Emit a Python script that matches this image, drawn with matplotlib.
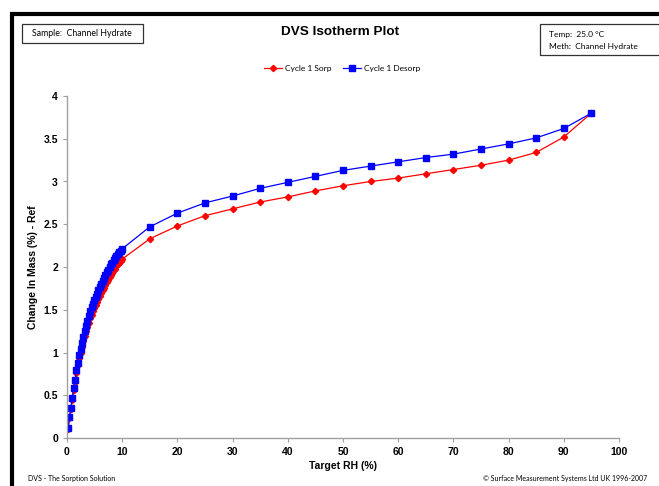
import matplotlib.pyplot as plt
from matplotlib.patches import Rectangle
from matplotlib.ticker import FuncFormatter

# Cycle 1 sorption (target RH %, change in mass %)
sorp_rh = [0.2, 0.45, 0.7, 0.95, 1.2, 1.45, 1.7, 1.95, 2.2, 2.45, 2.7, 2.95,
           3.2, 3.45, 3.7, 3.95, 4.2, 4.45, 4.7, 4.95, 5.2, 5.45, 5.7, 5.95,
           6.2, 6.45, 6.7, 6.95, 7.2, 7.45, 7.7, 7.95, 8.2, 8.45, 8.7, 8.95,
           9.2, 9.45, 9.7, 9.95,
           15, 20, 25, 30, 35, 40, 45, 50, 55, 60, 65, 70, 75, 80, 85, 90, 95]
sorp_mass = [0.11, 0.23, 0.34, 0.45, 0.56, 0.66, 0.76, 0.85, 0.93, 1.00, 1.07, 1.13,
             1.19, 1.25, 1.30, 1.35, 1.40, 1.44, 1.48, 1.52, 1.56, 1.59, 1.63, 1.66,
             1.70, 1.73, 1.76, 1.79, 1.82, 1.85, 1.88, 1.91, 1.93, 1.96, 1.98, 2.01,
             2.03, 2.05, 2.07, 2.09,
             2.33, 2.48, 2.60, 2.68, 2.76, 2.82, 2.89, 2.95, 3.00, 3.04, 3.09, 3.14,
             3.19, 3.25, 3.34, 3.52, 3.80]

# Cycle 1 desorption
desorp_rh = [0.2, 0.45, 0.7, 0.95, 1.2, 1.45, 1.7, 1.95, 2.2, 2.45, 2.7, 2.95,
             3.2, 3.45, 3.7, 3.95, 4.2, 4.45, 4.7, 4.95, 5.2, 5.45, 5.7, 5.95,
             6.2, 6.45, 6.7, 6.95, 7.2, 7.45, 7.7, 7.95, 8.2, 8.45, 8.7, 8.95,
             9.2, 9.45, 9.7, 9.95,
             15, 20, 25, 30, 35, 40, 45, 50, 55, 60, 65, 70, 75, 80, 85, 90, 95]
desorp_mass = [0.12, 0.24, 0.35, 0.47, 0.58, 0.68, 0.79, 0.88, 0.97, 1.04, 1.11, 1.18,
               1.25, 1.31, 1.37, 1.43, 1.48, 1.53, 1.57, 1.61, 1.65, 1.69, 1.73, 1.77,
               1.80, 1.84, 1.87, 1.91, 1.94, 1.97, 2.00, 2.03, 2.05, 2.08, 2.10, 2.13,
               2.15, 2.17, 2.19, 2.21,
               2.47, 2.63, 2.75, 2.83, 2.92, 2.99, 3.06, 3.13, 3.18, 3.23, 3.28, 3.32,
               3.38, 3.44, 3.51, 3.62, 3.80]

W, H = 659, 486
fig = plt.figure(figsize=(W / 100, H / 100), dpi=100)
small = "Lato"
bold = "Liberation Sans"

def px(x, y):
    return x / W, 1 - y / H

# black outer frame (cut off on the right and bottom)
fig.patches.append(Rectangle(px(12, 700), (700 - 12) / W, (700 - 13.7) / H,
                             transform=fig.transFigure, fill=False,
                             edgecolor="black", linewidth=3))

# header boxes
fig.patches.append(Rectangle(px(22.5, 43.3), 120 / W, 19 / H, transform=fig.transFigure,
                             fill=False, edgecolor="#333333", linewidth=0.9))
fig.text(*px(31.5, 34), "Sample:  Channel Hydrate", fontsize=6.3, family=small,
         va="center")
fig.patches.append(Rectangle(px(540, 55), 140 / W, 30.7 / H, transform=fig.transFigure,
                             fill=False, edgecolor="#333333", linewidth=0.9))
fig.text(*px(549, 34), "Temp:  25.0 °C", fontsize=6, family=small, va="center")
fig.text(*px(549, 46), "Meth:  Channel Hydrate", fontsize=6, family=small, va="center")
fig.text(*px(340, 32), "DVS Isotherm Plot", fontsize=9.7, family=bold,
         weight="bold", ha="center", va="center")

ax = fig.add_axes([67 / W, 1 - 438 / H, (619 - 67) / W, (438 - 96) / H])
ax.plot(sorp_rh, sorp_mass, color="red", linewidth=0.9, marker="D",
        markersize=3.2, label="Cycle 1 Sorp")
ax.plot(desorp_rh, desorp_mass, color="blue", linewidth=0.9, marker="s",
        markersize=5, label="Cycle 1 Desorp")

ax.set_xlim(0, 100)
ax.set_ylim(0, 4)
ax.set_xticks(range(0, 101, 10))
ax.set_yticks([0, 0.5, 1, 1.5, 2, 2.5, 3, 3.5, 4])
ax.yaxis.set_major_formatter(FuncFormatter(lambda v, p: f"{v:g}"))
for s in ["top", "right"]:
    ax.spines[s].set_visible(False)
for s in ["left", "bottom"]:
    ax.spines[s].set_color("#a0a0a0")
    ax.spines[s].set_linewidth(1.0)
ax.tick_params(colors="#a0a0a0", length=3, width=0.8, labelcolor="black",
               labelsize=7.5)
for lab in ax.get_xticklabels() + ax.get_yticklabels():
    lab.set_fontweight("bold")
    lab.set_family(bold)
ax.set_xlabel("Target RH (%)", fontsize=7.5, weight="bold", family=bold, labelpad=3)
ax.set_ylabel("Change In Mass (%) - Ref", fontsize=7.5, weight="bold", family=bold,
              labelpad=4)

leg = fig.legend(loc="center", bbox_to_anchor=px(342, 68), ncol=2, frameon=False,
                 prop={"family": small, "size": 6}, handlelength=2.2,
                 columnspacing=1.4, handletextpad=0.3)

fig.text(*px(28, 478), "DVS - The Sorption Solution", fontsize=5, family=small,
         va="center")
fig.text(*px(647, 478), "© Surface Measurement Systems Ltd UK 1996-2007", fontsize=5,
         family=small, va="center", ha="right")

fig.savefig("out.png", dpi=100)
